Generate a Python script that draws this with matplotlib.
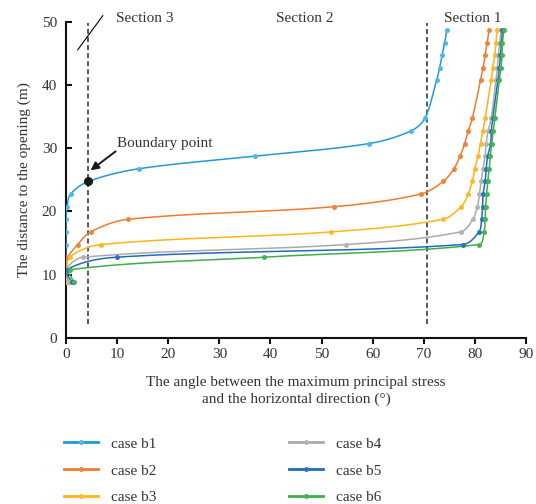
import numpy as np
import matplotlib.pyplot as plt

plt.rcParams['font.family'] = ['Liberation Serif', 'DejaVu Serif']
plt.rcParams['lines.scale_dashes'] = False

# distance to the opening (m), same levels for every case
dist = [8.75, 10.75, 12.75, 14.75, 16.75, 18.75, 20.75, 22.75, 24.75, 26.75,
        28.75, 30.75, 32.75, 34.75, 40.75, 42.75, 44.75, 46.75, 48.75]

# angle between max principal stress and horizontal (deg)
b1 = [0.4, 0.1, 0.0, 0.0, 0.0, 0.0, 0.2, 0.9, 4.4, 14.2,
      37.0, 59.3, 67.5, 70.2, 72.5, 73.1, 73.6, 74.1, 74.5]
b2 = [0.0, 0.1, 0.4, 2.3, 4.8, 12.1, 52.5, 69.4, 73.8, 75.9,
      77.1, 78.0, 78.7, 79.5, 81.1, 81.6, 82.0, 82.4, 82.8]
b3 = [0.0, 0.2, 0.7, 6.8, 51.8, 73.7, 77.3, 78.7, 79.5, 80.0,
      80.6, 81.1, 81.6, 82.0, 83.2, 83.5, 83.9, 84.1, 84.4]
b4 = [0.5, 0.0, 3.4, 54.7, 77.2, 79.6, 80.5, 80.9, 81.2, 81.6,
      82.0, 82.2, 82.6, 83.2, 84.1, 84.4, 84.6, 84.9, 85.1]
b5 = [1.2, 0.1, 9.9, 77.6, 80.8, 81.3, 81.5, 81.6, 82.0, 82.2,
      82.5, 83.1, 83.2, 83.5, 84.5, 84.8, 85.0, 85.2, 85.4]
b6 = [1.6, 0.7, 38.8, 80.8, 81.8, 82.0, 82.1, 82.3, 82.5, 82.8,
      83.0, 83.3, 83.6, 83.9, 84.8, 85.1, 85.3, 85.4, 85.7]

cases = ['case b1', 'case b2', 'case b3', 'case b4', 'case b5', 'case b6']
series = [b1, b2, b3, b4, b5, b6]
line_colors = ['#1E9BD7', '#EF7B2E', '#FDB416', '#AAAAAA', '#1F6CB8', '#3CAF4A']
marker_colors = ['#55B6E6', '#F0833A', '#FDBA2A', '#B4B4B4', '#2A74BE', '#45B553']

boundary = (4.4, 24.75)
section_lines = [4.3, 70.6]


def smooth(x, y, n=20, yscale=1.233):
    # bezier smoothing with chord-limited tangents, no overshoot on sharp turns
    p = np.column_stack([np.asarray(x, float), np.asarray(y, float) * yscale])
    m = len(p)
    out = [p[0]]
    for i in range(m - 1):
        a, b = p[i], p[i + 1]
        seg = np.linalg.norm(b - a)
        da = (p[i + 1] - p[i - 1]) if i > 0 else (b - a)
        db = (p[i + 2] - p[i]) if i + 2 < m else (b - a)
        da = da / (np.linalg.norm(da) or 1)
        db = db / (np.linalg.norm(db) or 1)
        c1 = a + da * seg / 3
        c2 = b - db * seg / 3
        t = np.linspace(0, 1, n)[1:, None]
        pts = ((1 - t) ** 3) * a + 3 * ((1 - t) ** 2) * t * c1 + 3 * (1 - t) * t ** 2 * c2 + t ** 3 * b
        out.extend(pts)
    out = np.array(out)
    return out[:, 0], out[:, 1] / yscale


fig = plt.figure(figsize=(5.36, 5.04), dpi=100)
ax = fig.add_axes([66 / 536, 166.3 / 504, 460 / 536, 315.7 / 504])

handles = []
for name, xs, lc, mc in zip(cases, series, line_colors, marker_colors):
    sx, sy = smooth(xs, dist)
    ax.plot(sx, sy, color=lc, lw=1.1, zorder=3)
    ax.plot(xs, dist, ls='none', marker='o', ms=3.6, mfc=mc, mec=mc, mew=0, zorder=4)
    h, = ax.plot([], [], color=lc, lw=2.0, marker='o', ms=3.6, mfc=mc, mec=mc, mew=0)
    handles.append(h)

# section boundaries
for sx in section_lines:
    ax.plot([sx, sx], [2.2, 49.8], color='#3a3a3a', lw=1.2, ls=(0, (3.6, 2.2)), zorder=2)

ax.plot([2.3, 7.2], [45.6, 51.0], color='black', lw=0.8, clip_on=False)

ax.plot(*boundary, marker='o', ms=5.5, color='#1a1a1a', zorder=5)
ax.annotate('Boundary point', xy=(9.9, 30.7), fontsize=11, color='#333333',
            ha='left', va='center')
ax.annotate('', xy=(4.8, 26.5), xytext=(9.7, 29.5),
            arrowprops=dict(arrowstyle='-|>', color='#1a1a1a', lw=1.4,
                            mutation_scale=12, shrinkA=0, shrinkB=0))

for label, x in [('Section 3', 9.85), ('Section 2', 41.1), ('Section 1', 74.0)]:
    ax.text(x, 50.6, label, fontsize=11, color='#333333', ha='left', va='center',
            clip_on=False)

ax.set_xlim(0, 90)
ax.set_ylim(0, 50)
ax.set_xticks(range(0, 91, 10))
ax.set_yticks(range(0, 51, 10))
for s in ['top', 'right']:
    ax.spines[s].set_visible(False)
for s in ['left', 'bottom']:
    ax.spines[s].set_linewidth(1.5)
    ax.spines[s].set_color('#111111')
ax.tick_params(axis='x', direction='out', length=4, width=1.5, pad=3.5,
               labelsize=11, labelcolor='#333333', color='#111111')
ax.tick_params(axis='y', direction='in', length=4, width=1.5, pad=6.5,
               labelsize=11, labelcolor='#333333', color='#111111')

ax.set_xlabel('The angle between the maximum principal stress\nand the horizontal direction (°)',
              fontsize=11, color='#333333', labelpad=11, linespacing=1.3)
ax.set_ylabel('The distance to the opening (m)', fontsize=11, color='#333333', labelpad=8)

fig.legend(handles, cases, loc='upper left', bbox_to_anchor=(64 / 536, 1 - 437 / 504),
           ncol=2, frameon=False, fontsize=11, handlelength=2.2, handletextpad=0.85,
           columnspacing=8.73, labelspacing=0.86, borderpad=0, borderaxespad=0,
           labelcolor='#333333')

fig.savefig('out.png', dpi=100)
